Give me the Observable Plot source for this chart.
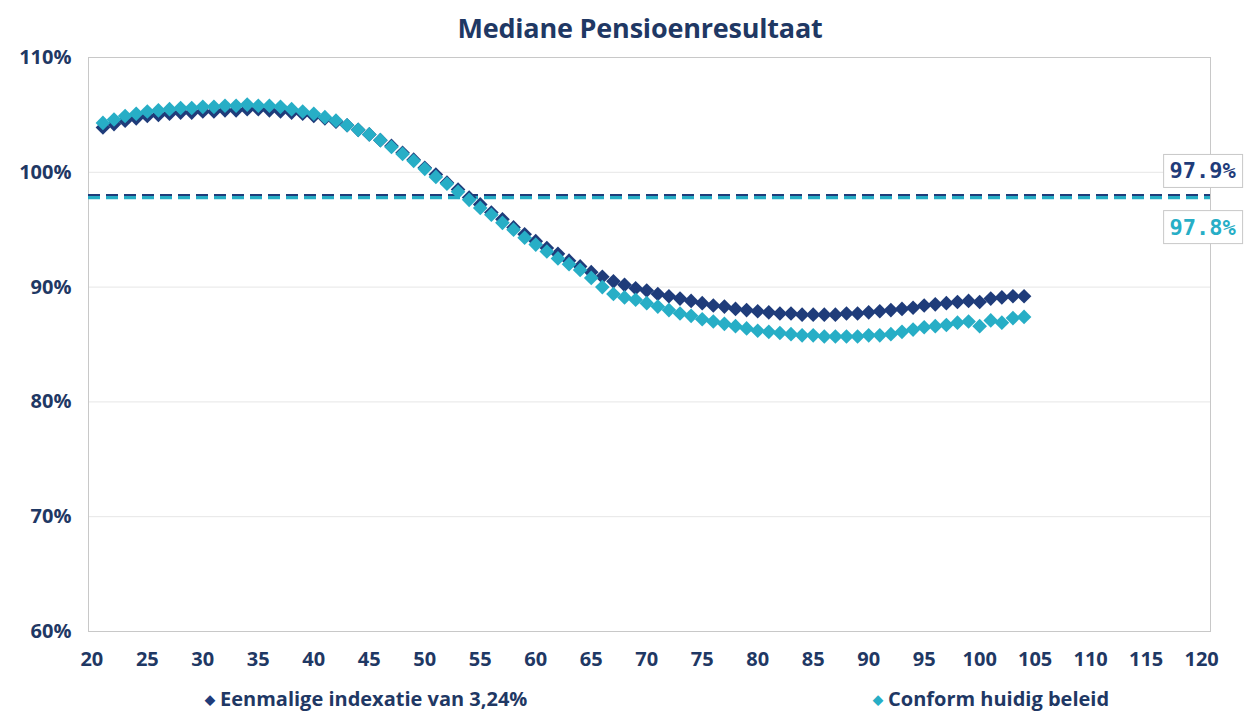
<!DOCTYPE html>
<html><head><meta charset="utf-8">
<script src="https://cdn.jsdelivr.net/npm/d3@7"></script>
<script src="https://cdn.jsdelivr.net/npm/@observablehq/plot@0.6"></script>
<style>
body{margin:0;background:#fff;font-family:"Open Sans",sans-serif;}
#wrap{position:relative;width:1252px;height:724px;overflow:hidden;background:#fff}
#title{position:absolute;left:0;top:9px;width:1280px;text-align:center;font-size:27px;font-weight:700;color:#1f3864;letter-spacing:-0.2px}
#chart{position:absolute;left:0;top:46px}
.leg{position:absolute;top:686px;font-size:20px;font-weight:700;color:#1f3864;white-space:nowrap;line-height:26px}
.leg b{font-size:13px;vertical-align:2px;margin-right:5px}
</style></head>
<body>
<div id="wrap">
  <div id="title">Mediane Pensioenresultaat</div>
  <div id="chart"></div>
  <div class="leg" id="leg1" style="left:205px"><b style="color:#1f3c7a">&#9670;</b>Eenmalige indexatie van 3,24%</div>
  <div class="leg" id="leg2" style="left:873px"><b style="color:#27aec6">&#9670;</b>Conform huidig beleid</div>
</div>
<script>
const ages = [21,22,23,24,25,26,27,28,29,30,31,32,33,34,35,36,37,38,39,40,
  41,42,43,44,45,46,47,48,49,50,51,52,53,54,55,56,57,58,59,60,
  61,62,63,64,65,66,67,68,69,70,71,72,73,74,75,76,77,78,79,80,
  81,82,83,84,85,86,87,88,89,90,91,92,93,94,95,96,97,98,99,100,
  101,102,103,104];
const eenmalig = [103.9,104.2,104.5,104.7,104.9,105.0,105.1,105.2,105.2,105.3,
  105.3,105.4,105.4,105.5,105.5,105.4,105.3,105.2,105.1,104.9,
  104.7,104.4,104.1,103.7,103.3,102.8,102.3,101.7,101.1,100.4,
  99.8,99.1,98.5,97.8,97.2,96.5,95.9,95.2,94.6,94.0,
  93.4,92.9,92.3,91.8,91.3,90.9,90.5,90.2,89.9,89.7,
  89.4,89.2,89.0,88.8,88.6,88.4,88.3,88.1,88.0,87.9,
  87.8,87.7,87.7,87.6,87.6,87.6,87.6,87.7,87.7,87.8,
  87.9,88.0,88.1,88.2,88.4,88.5,88.6,88.7,88.8,88.7,
  89.0,89.1,89.2,89.2];
const huidig = [104.3,104.6,104.9,105.1,105.3,105.4,105.5,105.6,105.6,105.7,
  105.7,105.8,105.8,105.9,105.8,105.8,105.7,105.5,105.3,105.1,
  104.8,104.5,104.1,103.7,103.3,102.8,102.2,101.6,101.0,100.3,
  99.6,99.0,98.3,97.6,96.9,96.3,95.6,95.0,94.3,93.7,
  93.1,92.5,92.0,91.5,90.8,90.0,89.4,89.1,88.9,88.6,
  88.3,88.0,87.7,87.5,87.2,87.0,86.8,86.6,86.4,86.2,
  86.1,86.0,85.9,85.8,85.8,85.7,85.7,85.7,85.7,85.8,
  85.8,85.9,86.1,86.3,86.5,86.6,86.7,86.9,87.0,86.6,
  87.1,86.9,87.3,87.4];
const seriesNames = ["Eenmalige indexatie van 3,24%", "Conform huidig beleid"];
const colors = ["#1f3c7a", "#27aec6"];
const averages = [97.9, 97.8];
const avgLabels = ["97.9%", "97.8%"];
const xTicks = [20,25,30,35,40,45,50,55,60,65,70,75,80,85,90,95,100,105,110,115,120];
const yTicks = [60,70,80,90,100,110];

const pts1 = ages.map((a,i)=>({age:a, v:eenmalig[i]}));
const pts2 = ages.map((a,i)=>({age:a, v:huidig[i]}));

const navy = "#1f3864";
const labelOpts = (i, dy) => ({x: xTicks[xTicks.length-1], y: averages[i], text: [avgLabels[i]], fill: colors[i],
  dy, dx: -32, textAnchor: "start", fontSize: 22, fontWeight: "bold", fontFamily: "DejaVu Sans Mono", className: "vlab"});

const plot = Plot.plot({
  width: 1252,
  height: 640,
  marginLeft: 88,
  marginRight: 42,
  marginTop: 11,
  marginBottom: 55,
  style: {fontFamily: "Open Sans, sans-serif", fontSize: "20px", fontWeight: "bold", color: navy, background: "transparent", overflow: "visible"},
  x: {domain: [19.7, 120.8]},
  y: {domain: [60, 110]},
  marks: [
    Plot.gridY(yTicks, {stroke: "#e6e6e6", strokeOpacity: 1}),
    Plot.frame({stroke: "#c8c8c8"}),
    Plot.axisX(xTicks, {tickSize: 0, tickPadding: 20, label: null, fill: navy}),
    Plot.axisY(yTicks, {tickSize: 0, tickPadding: 17, tickFormat: d => d + "%", label: null, fill: navy}),
    Plot.ruleY([averages[0]], {stroke: colors[0], strokeWidth: 5, strokeDasharray: "12,6"}),
    Plot.ruleY([averages[1]], {stroke: colors[1], strokeWidth: 3.2, strokeDasharray: "12,6"}),
    Plot.dot(pts1, {x: "age", y: "v", symbol: "diamond2", r: 6.6, fill: colors[0], stroke: "none"}),
    Plot.dot(pts2, {x: "age", y: "v", symbol: "diamond2", r: 6.6, fill: colors[1], stroke: "none"}),
    Plot.text([0], labelOpts(0, -25)),
    Plot.text([0], labelOpts(1, 30))
  ]
});
document.getElementById("chart").appendChild(plot);
// draw boxes around the average labels
plot.querySelectorAll("g.vlab text").forEach(t => {
  const b = t.getBBox();
  const r = document.createElementNS("http://www.w3.org/2000/svg","rect");
  r.setAttribute("x", b.x - 6); r.setAttribute("y", b.y - 4);
  r.setAttribute("width", b.width + 12); r.setAttribute("height", b.height + 8);
  r.setAttribute("fill", "#fff"); r.setAttribute("stroke", "#c8c8c8");
  const tr = t.getAttribute("transform");
  if (tr) r.setAttribute("transform", tr);
  t.parentNode.insertBefore(r, t);
});
</script>
</body></html>
